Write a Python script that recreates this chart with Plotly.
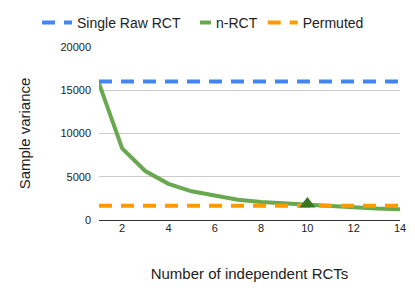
import plotly.graph_objects as go

n_rcts = [1, 2, 3, 4, 5, 6, 7, 8, 9, 10, 11, 12, 13, 14]
n_rct_variance = [15800, 8280, 5660, 4180, 3320, 2850, 2340, 2070, 1950, 1800, 1680, 1480, 1330, 1240]
single_raw_variance = 16000
permuted_variance = 1650
highlight_x = [10]
highlight_y = [1850]
y_ticks = [0, 5000, 10000, 15000, 20000]
x_ticks = [2, 4, 6, 8, 10, 12, 14]

FONT = "Liberation Sans, Arial, sans-serif"
GREEN = "#6AA84F"

fig = go.Figure()
fig.add_trace(go.Scatter(
    x=[n_rcts[0], n_rcts[-1]], y=[single_raw_variance, single_raw_variance],
    mode="lines", name="Single Raw RCT", legendwidth=94, legendrank=1,
    line=dict(color="#4285F4", width=4, dash="13px,9px"),
))
fig.add_trace(go.Scatter(
    x=n_rcts, y=n_rct_variance, mode="lines", name="n-RCT", showlegend=False,
    line=dict(color=GREEN, width=4),
))
# legend-only entry so the n-RCT key is a short single segment
fig.add_trace(go.Scatter(
    x=[None], y=[None], mode="lines", name="n-RCT", legendrank=2,
    line=dict(color=GREEN, width=4, dash="0px,19px,12px,60px"),
))
fig.add_trace(go.Scatter(
    x=[n_rcts[0], n_rcts[-1]], y=[permuted_variance, permuted_variance],
    mode="lines", name="Permuted", legendrank=3,
    line=dict(color="#FF9900", width=4, dash="13px,9px"),
))
fig.add_trace(go.Scatter(
    x=highlight_x, y=highlight_y, mode="markers", showlegend=False,
    marker=dict(symbol="triangle-up", size=14, color="#38761D"),
))

fig.update_layout(
    width=415, height=298,
    margin=dict(l=99, r=15, t=47, b=78, autoexpand=False),
    paper_bgcolor="white", plot_bgcolor="white",
    font=dict(family=FONT, color="#222222"),
    legend=dict(
        orientation="h", xref="paper", yref="paper",
        x=(37 - 99) / 301, xanchor="left", y=1 + (47 - 23) / 173, yanchor="middle",
        font=dict(size=14, color="#222222"),
        bgcolor="rgba(0,0,0,0)",
    ),
    xaxis=dict(
        range=[1, 14], tickvals=x_ticks, showgrid=False, zeroline=False,
        showline=False, ticks="", tickfont=dict(size=11, color="#222222"),
        title=dict(text="Number of independent RCTs", font=dict(size=15, color="#222222"), standoff=35),
    ),
    yaxis=dict(
        range=[0, 20000], tickvals=y_ticks, tickformat="d",
        showgrid=True, gridcolor="#cccccc", gridwidth=1,
        zeroline=True, zerolinecolor="#333333", zerolinewidth=1,
        showline=False, ticks="", ticklabelstandoff=7,
        tickfont=dict(size=11, color="#222222"),
        title=dict(text="Sample variance", font=dict(size=15, color="#222222"), standoff=26),
    ),
)

fig.write_html("out.html", config={"displayModeBar": False},
               post_script="document.body.style.margin='0';")
